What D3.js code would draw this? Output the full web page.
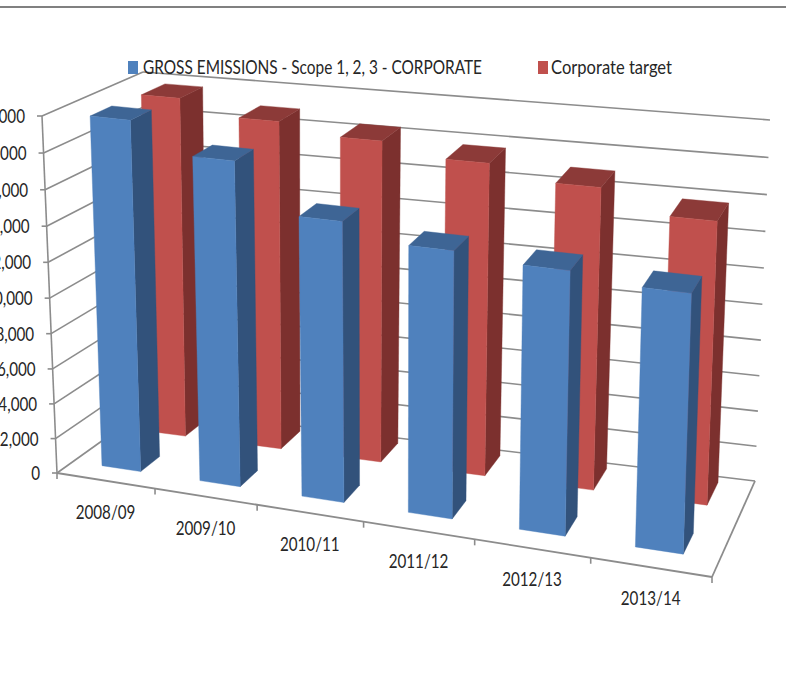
<!DOCTYPE html>
<html><head><meta charset="utf-8">
<script src="https://cdn.jsdelivr.net/npm/d3@7/dist/d3.min.js"></script>
<style>html,body{margin:0;padding:0;background:#fff;overflow:hidden}svg{display:block}
text{font-family:Lato,"Liberation Sans",sans-serif;fill:#262626}</style>
</head><body><svg id="c" width="786" height="677"></svg>
<script>
const categories = ["2008/09","2009/10","2010/11","2011/12","2012/13","2013/14"];
const grossEmissions = [19740,18150,15550,14680,14360,13930];
const corporateTarget = [19600,18800,18240,17570,16830,15630];
const valueTicks = [0,2000,4000,6000,8000,10000,12000,14000,16000,18000,20000];
const seriesNames = ["GROSS EMISSIONS - Scope 1, 2, 3 - CORPORATE","Corporate target"];

const svg = d3.select("#c");
const C = {
  "000":[57,473],"100":[712,577],"001":[148,408],"101":[755,481],
  "010":[42,116],"110":[725,192],"011":[143,72],"111":[770,120]
};
const warpA = -0.12, warpB = -0.04;
const warp = (u,a) => u*(1+a)/(1+u*a);
function P(u,v,w){
  const U=warp(u,warpA), V=warp(v,warpB);
  const r=[0,0];
  for(const a of [0,1])for(const b of [0,1])for(const c of [0,1]){
    const k=(a?U:1-U)*(b?V:1-V)*(c?w:1-w), p=C[""+a+b+c];
    r[0]+=k*p[0]; r[1]+=k*p[1];
  }
  return r;
}
const yS = d3.scaleLinear().domain([0,20000]).range([0,1]);
const xS = d3.scaleBand().domain(categories).range([0,1]).paddingInner(0.6).paddingOuter(0.3);
const slot = d3.scaleLinear().domain([0,categories.length]).range([0,1]);
const line = d3.line();
const grid="#8c8c8c";
const g = svg.append("g");
const seg=(a,b,col,w)=>g.append("path").attr("d",line([a,b])).attr("stroke",col).attr("stroke-width",w).attr("fill","none");
const narrow=(sel,f)=>{const n=sel.node();sel.attr("textLength",n.getComputedTextLength()*f).attr("lengthAdjust","spacingAndGlyphs");return sel;};

svg.append("rect").attr("x",0).attr("y",6).attr("width",786).attr("height",2).attr("fill","#808080");
valueTicks.forEach(t=>{
  const v=yS(t);
  seg(P(0,v,0),P(0,v,1),grid,1.6);
  seg(P(0,v,1),P(1,v,1),grid,1.6);
  const a=P(0,v,0);
  seg([a[0]-5,a[1]],a,grid,1.6);
  narrow(g.append("text").attr("x",a[0]-17).attr("y",a[1]+7).attr("text-anchor","end")
   .attr("font-size",19).text(d3.format(",")(t)),0.8);
});
seg(P(0,0,0),P(0,1,0),grid,1.6);
seg(P(0,0,0),P(1,0,0),grid,1.8);
seg(P(1,0,0),P(1,0,1),grid,1.8);
d3.range(categories.length+1).forEach(i=>{
  const a=P(slot(i),0,0);
  seg(a,[a[0],a[1]+6],grid,1.6);
});
categories.forEach(c=>{
  const a=P(xS(c)+xS.bandwidth()/2,0,0);
  narrow(g.append("text").attr("x",a[0]).attr("y",a[1]+38).attr("text-anchor","middle")
   .attr("font-size",19).text(c),0.8);
});

function bars(vals,w0,w1,cols){
  vals.forEach((val,i)=>{
    const c=categories[i], u0=xS(c), u1=u0+xS.bandwidth(), v=yS(val);
    const poly=(pts,col)=>g.append("path").attr("d",line(pts)+"Z").attr("fill",col).attr("stroke",col).attr("stroke-width",.4);
    poly([P(u1,0,w0),P(u1,0,w1),P(u1,v,w1),P(u1,v,w0)],cols[1]);
    poly([P(u0,v,w0),P(u1,v,w0),P(u1,v,w1),P(u0,v,w1)],cols[2]);
    poly([P(u0,0,w0),P(u1,0,w0),P(u1,v,w0),P(u0,v,w0)],cols[0]);
  });
}
bars(corporateTarget,0.70,0.94,["#C0504D","#7C302E","#8C3A38"]);
bars(grossEmissions,0.18,0.40,["#4F81BD","#32527B","#3E6595"]);

const lg=svg.append("g");
const lx=[128,538], tx=[143,551], tw=[339,121], colors=["#4F81BD","#C0504D"];
seriesNames.forEach((n,i)=>{
  lg.append("rect").attr("x",lx[i]).attr("y",61).attr("width",10).attr("height",13).attr("fill",colors[i]);
  lg.append("text").attr("x",tx[i]).attr("y",74).attr("font-size",19)
    .attr("textLength",tw[i]).attr("lengthAdjust","spacingAndGlyphs").text(n);
});
</script></body></html>
